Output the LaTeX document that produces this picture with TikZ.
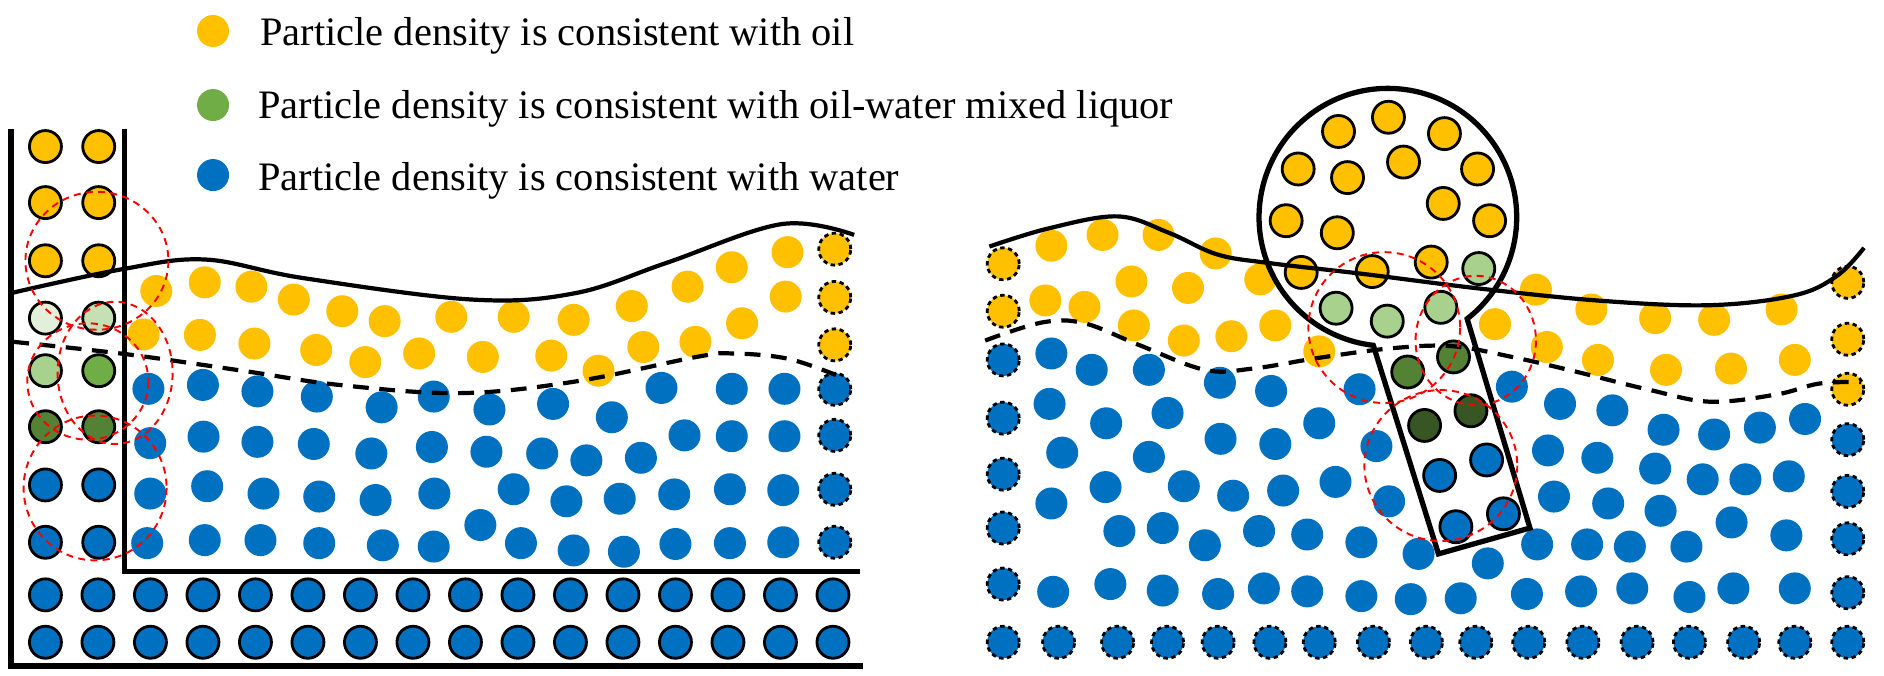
\documentclass[tikz,border=0pt]{standalone}
\usepackage{fontspec}
\setmainfont{Liberation Serif}
\begin{document}
\definecolor{oc}{HTML}{FFC000}
\definecolor{bc}{HTML}{0070C0}
\definecolor{gc}{HTML}{70AD47}
\definecolor{g1}{HTML}{E2EFDA}
\definecolor{g2}{HTML}{C5E0B4}
\definecolor{g3}{HTML}{A9D18E}
\definecolor{g4}{HTML}{548235}
\definecolor{g5}{HTML}{375623}
\begin{tikzpicture}[
  p/.style={line width=1.6pt},
  sol/.style={p,draw=black},
  dsh/.style={p,draw=black,dash pattern=on 2.5pt off 2pt},
  wall/.style={line width=3pt},
  wave/.style={line width=2.4pt},
  dwave/.style={line width=2.4pt,dash pattern=on 9pt off 6pt},
  red/.style={draw=red,line width=1.1pt,dash pattern=on 4pt off 3pt},
  lbl/.style={anchor=base west,font=\fontsize{23}{27}\selectfont,inner sep=0pt}]
\def\pr{0.32cm}
\useasboundingbox (0,0) rectangle (37.68,-13.5);
% legend (orig px, 0.02cm)
\begin{scope}[x=0.02cm,y=-0.02cm]
\fill[oc] (213,31) circle[radius=\pr];
\fill[gc] (213,105) circle[radius=\pr];
\fill[bc] (213,175) circle[radius=\pr];
\node[lbl] (t1) at (260,45) {Particle density is consistent with oil};
\node[lbl] (t2) at (258,118) {Particle density is consistent with oil-water mixed liquor};
\node[lbl] (t3) at (258,190) {Particle density is consistent with water};
\end{scope}
% LEFT panel in zoom1 units
\begin{scope}[x=0.012121cm,y=-0.008621cm]
\foreach \x/\y in {258/675,338/655,415/665,485/695,565/722,635/745,745/735,848/735,947/742,1043/710,1135/665,1208/620,1300/585,1297/688,1225/750,1148/793,1062/805,988/860,910/825,797/828,692/820,603/840,522/812,420/797,330/777,237/776}
  \fill[oc] (\x,\y) circle[radius=\pr];
\foreach \x/\y in {245/902,335/893,425/908,523/920,630/945,716/920,808/950,913/937,1010/968,1092/900,1208/902,1295/902,
 248/1028,336/1013,425/1025,518/1030,613/1052,713/1037,803/1048,895/1052,968/1068,1058/1062,1130/1010,1208/1012,1295/1012,
 248/1145,342/1128,435/1145,527/1152,620/1160,717/1145,848/1135,935/1163,1023/1157,1113/1147,1205/1135,1293/1137,
 243/1260,338/1253,430/1253,527/1260,632/1265,716/1268,793/1218,860/1260,947/1277,1030/1280,1115/1262,1205/1260,1293/1258}
  \fill[bc] (\x,\y) circle[radius=\pr];
% left column
\foreach \y in {340,470,605} { \filldraw[oc,sol] (75,\y) circle[radius=\pr]; \filldraw[oc,sol] (163,\y) circle[radius=\pr]; }
\filldraw[g1,sol] (75,738) circle[radius=\pr];
\filldraw[g2,sol] (163,738) circle[radius=\pr];
\filldraw[g3,sol] (75,860) circle[radius=\pr];
\filldraw[gc,sol] (163,860) circle[radius=\pr];
\filldraw[g4,sol] (75,990) circle[radius=\pr];
\filldraw[g4,sol] (163,990) circle[radius=\pr];
\foreach \y in {1125,1258} { \filldraw[bc,sol] (75,\y) circle[radius=\pr]; \filldraw[bc,sol] (163,\y) circle[radius=\pr]; }
\foreach \k in {0,...,15} { \filldraw[bc,sol] ({75+86.67*\k},1380) circle[radius=\pr]; \filldraw[bc,sol] ({75+86.67*\k},1490) circle[radius=\pr]; }
\foreach \y in {578,690,800} \filldraw[oc,dsh] (1378,\y) circle[radius=\pr];
\foreach \y in {903,1010,1135,1258} \filldraw[bc,dsh] (1378,\y) circle[radius=\pr];
% walls
\coordinate (wa) at (18,300); \coordinate (wb) at (18,1545); \coordinate (wc) at (1425,1545);
\coordinate (wd) at (205,300); \coordinate (we) at (205,1325); \coordinate (wf) at (1420,1325);
\draw[wall] (wa) -- (wb) -- (wc);
\draw[wall] (wd) -- (we) -- (wf);
\draw[wave] plot[smooth,tension=0.6] coordinates {(18,680) (200,625) (338,602) (500,645) (780,695) (950,680) (1100,610) (1290,520) (1410,545)};
\draw[dwave] plot[smooth,tension=0.6] coordinates {(22,793) (210,822) (400,860) (560,893) (760,912) (950,885) (1150,828) (1210,820) (1300,832) (1380,870)};
\draw[red] (160,605) ellipse[x radius=118, y radius=160];
\draw[red] (190,865) ellipse[x radius=95, y radius=165];
\draw[red] (145,885) ellipse[x radius=100, y radius=135];
\draw[red] (157,1132) ellipse[x radius=118, y radius=168];
\end{scope}
% RIGHT panel in zoom2 units
\begin{scope}[shift={(18.8,0)},x=0.012041cm,y=-0.008621cm]
\foreach \x/\y in {185/570,270/545,363/545,458/588,318/653,412/668,532/648,175/697,240/712,322/755,405/790,484/780,557/755,630/815,922/752,990/672,1008/805,1082/718,1093/835,1188/738,1206/858,1286/742,1314/855,1398/718,1420/835}
  \fill[oc] (\x,\y) circle[radius=\pr];
\foreach \x/\y in {185/820,252/858,347/858,465/888,550/907,697/903,950/897,1030/937,1117/952,182/937,276/982,378/958,466/1018,557/1030,630/982,725/1035,1010/1045,1092/1062,1202/997,1286/1008,1362/992,1437/972,203/1050,347/1060,275/1130,405/1128,487/1150,570/1138,657/1118,746/1163,1020/1152,1110/1168,1188/1087,1267/1112,1338/1112,1410/1105,185/1168,298/1232,370/1225,440/1265,530/1232,610/1240,700/1258,795/1285,910/1307,992/1263,1075/1263,1146/1268,1240/1268,1197/1185,1315/1212,1406/1242,188/1373,283/1355,370/1370,462/1378,538/1365,610/1372,700/1383,782/1390,865/1388,975/1378,1065/1372,1150/1365,1245/1385,1318/1365,1420/1365}
  \fill[bc] (\x,\y) circle[radius=\pr];
\foreach \x/\y in {745/272,662/305,838/310,595/392,677/412,770/376,893/392,575/512,660/540,836/472,913/512,600/632,718/630,816/608}
  \filldraw[oc,sol] (\x,\y) circle[radius=\pr];
\foreach \x/\y in {895/623,658/715,743/745,832/713} \filldraw[g3,sol] (\x,\y) circle[radius=\pr];
\foreach \x/\y in {777/863,853/828} \filldraw[g4,sol] (\x,\y) circle[radius=\pr];
\foreach \x/\y in {805/987,882/953} \filldraw[g5,sol] (\x,\y) circle[radius=\pr];
\foreach \x/\y in {830/1103,908/1067,857/1222,936/1192} \filldraw[bc,sol] (\x,\y) circle[radius=\pr];
\foreach \y in {612,722} \filldraw[oc,dsh] (105,\y) circle[radius=\pr];
\foreach \y in {835,970,1100,1225,1355} \filldraw[bc,dsh] (105,\y) circle[radius=\pr];
\foreach \y in {655,787,903} \filldraw[oc,dsh] (1508,\y) circle[radius=\pr];
\foreach \y in {1020,1140,1250,1375} \filldraw[bc,dsh] (1508,\y) circle[radius=\pr];
\foreach \x in {105,197,295,378,462,548,630,720,808,890,978,1068,1158,1245,1335,1420,1508} \filldraw[bc,dsh] (\x,1490) circle[radius=\pr];
\draw[wave] plot[smooth,tension=0.6] coordinates {(82,572) (180,530) (295,502) (380,540) (460,590) (545,610) (700,635) (900,670) (1100,698) (1280,708) (1420,685) (1490,640) (1535,575)};
\draw[dwave] plot[smooth,tension=0.6] coordinates {(75,790) (170,748) (240,750) (330,800) (440,858) (520,855) (630,830) (750,808) (850,803) (950,828) (1050,860) (1180,905) (1280,932) (1390,915) (1460,890) (1530,886)};
\coordinate (cc) at (744,504);
\coordinate (ra) at (828,1285); \coordinate (rb) at (980,1225);
\draw[wall] (cc) ++(52:214 and 299) arc[start angle=52,end angle=-263.5,x radius=214,y radius=299] -- (ra) -- (rb) -- cycle;
\draw[red] (738,760) ellipse[x radius=126, y radius=175];
\draw[red] (890,790) ellipse[x radius=100, y radius=150];
\draw[red] (832,1080) ellipse[x radius=127, y radius=175];
\end{scope}
\end{tikzpicture}
\end{document}
